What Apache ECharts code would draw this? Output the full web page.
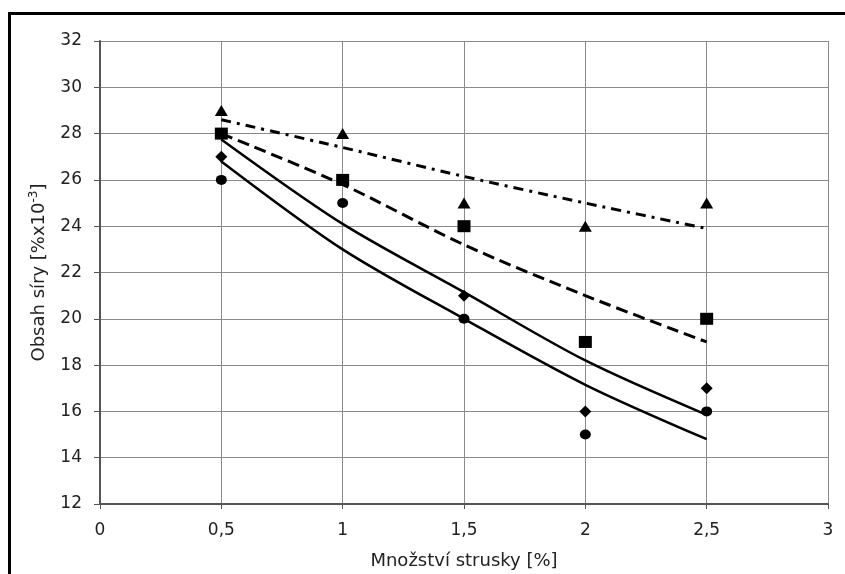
<!DOCTYPE html>
<html>
<head>
<meta charset="utf-8">
<title>Obsah síry</title>
<script src="https://cdn.jsdelivr.net/npm/echarts@6/dist/echarts.min.js"></script>
<style>
  html, body { margin: 0; padding: 0; background: #fff; }
  #chart { width: 845px; height: 574px; }
</style>
</head>
<body>
<div id="chart"></div>
<script>
// x positions (mnozstvi strusky, %)
var xValues = [0.5, 1, 1.5, 2, 2.5]
// measured points
var triangleVals = [29, 28, 25, 24, 25]
var squareVals = [28, 26, 24, 19, 20]
var diamondVals = [27, 26, 21, 16, 17]
var circleVals = [26, 25, 20, 15, 16]
// trend lines
var trendDashDot = [28.6, 27.4, 26.15, 25.0, 23.9]
var trendDashed = [28.0, 25.8, 23.2, 21.0, 19.0]
var trendUpper = [27.75, 24.1, 21.15, 18.2, 15.85]
var trendLower = [26.8, 23.0, 20.0, 17.15, 14.8]

var fontFam = 'DejaVu Sans, sans-serif'

function pairs (ys) {
  return xValues.map(function (x, i) { return [x, ys[i]] })
}

function trend (name, ys, type, width) {
  return {
    name: name,
    type: 'line',
    data: pairs(ys),
    smooth: 0.3,
    showSymbol: false,
    silent: true,
    z: 2,
    lineStyle: { color: '#000', width: width, type: type }
  }
}

function points (name, ys, symbol, size, z) {
  return {
    name: name,
    type: 'scatter',
    data: pairs(ys),
    symbol: symbol,
    symbolSize: size,
    z: z,
    itemStyle: { color: '#000', opacity: 1 }
  }
}

var chart = echarts.init(document.getElementById('chart'), null, { renderer: 'canvas' })
chart.setOption({
  animation: false,
  backgroundColor: '#fff',
  textStyle: { fontFamily: fontFam },
  grid: { left: 100, right: 17, top: 41, bottom: 70, containLabel: false, outerBoundsMode: 'none' },
  graphic: [
    { type: 'rect', left: 8, top: 12, shape: { width: 3, height: 562 }, style: { fill: '#000' } },
    { type: 'rect', left: 8, top: 12, shape: { width: 837, height: 3 }, style: { fill: '#000' } }
  ],
  xAxis: {
    type: 'value',
    min: 0,
    max: 3,
    interval: 0.5,
    name: 'Množství strusky [%]',
    nameLocation: 'middle',
    nameGap: 48,
    nameTextStyle: { color: '#222', fontSize: 18, fontFamily: fontFam },
    axisLine: { lineStyle: { color: '#555', width: 2 } },
    axisTick: { show: true, length: 5, lineStyle: { color: '#555' } },
    axisLabel: {
      color: '#222',
      fontSize: 17,
      fontFamily: fontFam,
      margin: 18,
      formatter: function (v) { return String(v).replace('.', ',') }
    },
    splitLine: { show: true, lineStyle: { color: '#8a8a8a', width: 1 } }
  },
  yAxis: {
    type: 'value',
    min: 12,
    max: 32,
    interval: 2,
    name: '{a|Obsah síry [%x10}{s|-3}{a|]}',
    nameLocation: 'middle',
    nameRotate: 90,
    nameGap: 50,
    nameTextStyle: {
      color: '#222',
      rich: {
        a: { fontSize: 18, fontFamily: fontFam, color: '#222', lineHeight: 22 },
        s: { fontSize: 12, fontFamily: fontFam, color: '#222', verticalAlign: 'top', lineHeight: 14 }
      }
    },
    axisLine: { show: true, lineStyle: { color: '#555', width: 2 } },
    axisTick: { show: true, length: 6, lineStyle: { color: '#555' } },
    axisLabel: { color: '#222', fontSize: 17, fontFamily: fontFam, margin: 18 },
    splitLine: { show: true, lineStyle: { color: '#8a8a8a', width: 1 } }
  },
  series: [
    trend('trend triangle', trendDashDot, [10, 6, 3, 6], 3),
    trend('trend square', trendDashed, [12, 6], 3),
    trend('trend diamond', trendUpper, 'solid', 2.5),
    trend('trend circle', trendLower, 'solid', 2.5),
    points('diamond', diamondVals, 'diamond', [12, 12], 5),
    points('circle', circleVals, 'circle', [11, 10], 6),
    points('square', squareVals, 'rect', [13, 12], 7),
    points('triangle', triangleVals, 'triangle', [13, 11], 8)
  ]
})
</script>
</body>
</html>
